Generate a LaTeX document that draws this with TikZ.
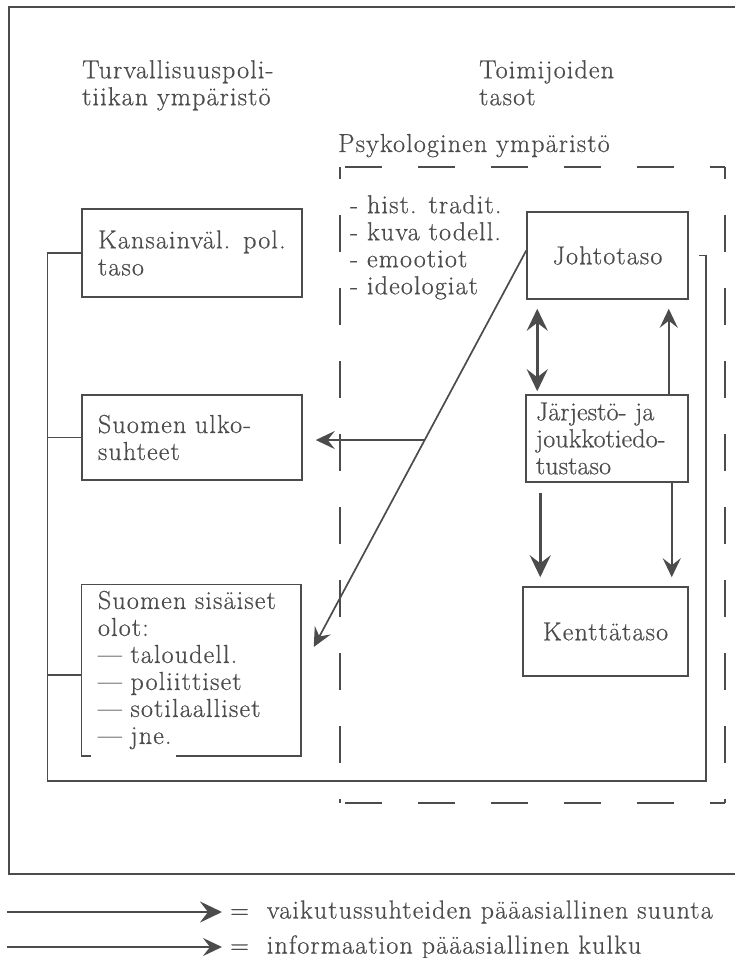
\documentclass[tikz,border=0pt]{standalone}
\usepackage{fontspec}
\setmainfont{Latin Modern Roman}[LetterSpace=4.5,FakeBold=0.6]
\usepackage{tikz}
\usetikzlibrary{arrows.meta,calc}
\definecolor{ink}{gray}{0.3}
\hyphenpenalty=10000
\exhyphenpenalty=10000
\tikzset{
  bigtip/.tip={Stealth[length=22pt,width=21pt,inset=8pt]},
  smalltip/.tip={Stealth[length=19pt,width=18pt,inset=7pt]},
  level/.style={draw=ink, line width=1.5pt, inner sep=0pt, align=left},
  infl/.style={draw=ink, line width=2.8pt},
  info/.style={draw=ink, line width=1.7pt},
  link/.style={draw=ink, line width=1.5pt},
  psyh/.style={draw=ink, line width=1.4pt, dash pattern=on 37pt off 36pt, dash phase=68pt},
  psyv/.style={draw=ink, line width=1.4pt, dash pattern=on 37pt off 36pt, dash phase=33pt}
}
\begin{document}
\begin{tikzpicture}[x=1pt,y=-1pt,font=\fontsize{26}{27}\selectfont,text=ink]
\useasboundingbox (0,0) rectangle (735,958);
%% The outer frame. It runs off the page on the right, so only three sides are drawn.
\draw[link] (735,7) -- (9,7) -- (9,874) -- (735,874);

%% Headings over the two columns
\node[anchor=north west,inner sep=0pt,align=left] (hdenv) at (82,60) {Turvallisuuspoli-\\tiikan ympäristö};
\node[anchor=north west,inner sep=0pt,align=left] (hdact) at (479,60) {Toimijoiden\\tasot};
\node[anchor=base west,inner sep=0pt] (hdpsy) at (338,152) {Psykologinen ympäristö};

%% The dashed box for the psychological environment, one side at a time so the corners stay open
\coordinate (psynw) at (340,167);
\coordinate (psyse) at (725,803);
\draw[psyh] (psynw) -- (psynw -| psyse);
\draw[psyh] (psynw |- psyse) -- (psyse);
\draw[psyv] (psynw |- psyse) -- (psynw);
\draw[psyv] (psyse) -- (psynw -| psyse);
\node[anchor=north west,inner sep=0pt,align=left] (psylist) at (350,195) {- hist. tradit.\\- kuva todell.\\- emootiot\\- ideologiat};

%% Left column: the environment
\node[level,minimum width=220pt,minimum height=88pt,text width=188pt] (kans) at (192,253) {Kansainväl. pol.\\taso};
\node[level,minimum width=220pt,minimum height=85pt,text width=188pt] (ulko) at (192,437.5) {Suomen ulko-\\suhteet};
\node[level,draw=none,minimum width=218pt,minimum height=170pt,text width=186pt] (sis) at (191,670) {Suomen sisäiset\\olot:\\--- taloudell.\\--- poliittiset\\--- sotilaalliset\\--- jne.};
%% the bottom edge of this box is broken under the last line
\draw[link] ([xshift=10pt]sis.south west) -- (sis.south west) -- (sis.north west) -- (sis.north east) -- (sis.south east) -- ([xshift=-125pt]sis.south east);

%% Right column: the levels of the actors
\node[level,minimum width=161pt,minimum height=87pt] (jt) at (607.5,255.5) {Johtotaso};
\node[level,minimum width=162pt,minimum height=87pt,text width=142pt,
      font=\fontsize{26}{27}\selectfont\addfontfeatures{LetterSpace=0.5}] (jo) at (607,438.5) {Järjestö- ja\\joukkotiedo-\\tustaso};
\node[level,minimum width=165pt,minimum height=89pt] (kt) at (605.5,631.5) {Kenttätaso};

%% The bracket that ties the levels to the environment
\coordinate (rbot) at (706,781);
\draw[link] ([xshift=10pt]jt.east) -| (rbot) -| ([xshift=-34pt]kans.west) -- (kans.west);
\draw[link] (ulko.west) -- ++(-34,0);
\draw[link] ([yshift=-5pt]sis.west) -- ++(-34,0);

%% Arrows between the levels
\draw[infl,{bigtip}-{bigtip}] ([xshift=11pt,yshift=-9pt]jt.south west) -- ([xshift=12pt,yshift=3pt]jo.north west);
\draw[info,-{smalltip}] ([xshift=-20pt]jo.north east) -- ([xshift=-20pt,yshift=-9pt]jt.south east);
\draw[infl,-{bigtip}] ([xshift=15pt,yshift=-10pt]jo.south west) -- ([xshift=18pt,yshift=9pt]kt.north west);
\draw[info,-{smalltip}] ([xshift=-17pt]jo.south east) -- ([xshift=-17pt,yshift=9pt]kt.north east);

%% From the leadership out to the environment
\coordinate (sisin) at ($(sis.east)+(13,-23)$);
\coordinate (ulkoin) at ($(ulko.east)+(13,0)$);
\draw[info,-{smalltip}] ([yshift=5pt]jt.west) -- (sisin);
\coordinate (split) at ($([yshift=5pt]jt.west)!0.478!(sisin)$);
\draw[info,-{smalltip}] (split) -- (split -| ulkoin);

%% Legend under the frame
\node[anchor=west,inner xsep=8pt,inner ysep=0pt] (lginfl) at (222,912) {=\hspace{18pt}vaikutussuhteiden pääasiallinen suunta};
\coordinate (lgia) at (7,912);
\draw[infl,-{bigtip}] (lgia) -- (lginfl.west);
\node[anchor=west,inner xsep=8pt,inner ysep=0pt] (lginfo) at (222,947) {=\hspace{18pt}informaation pääasiallinen kulku};
\coordinate (lgib) at (7,947);
\draw[info,-{smalltip}] (lgib) -- (lginfo.west);
\end{tikzpicture}
\end{document}
